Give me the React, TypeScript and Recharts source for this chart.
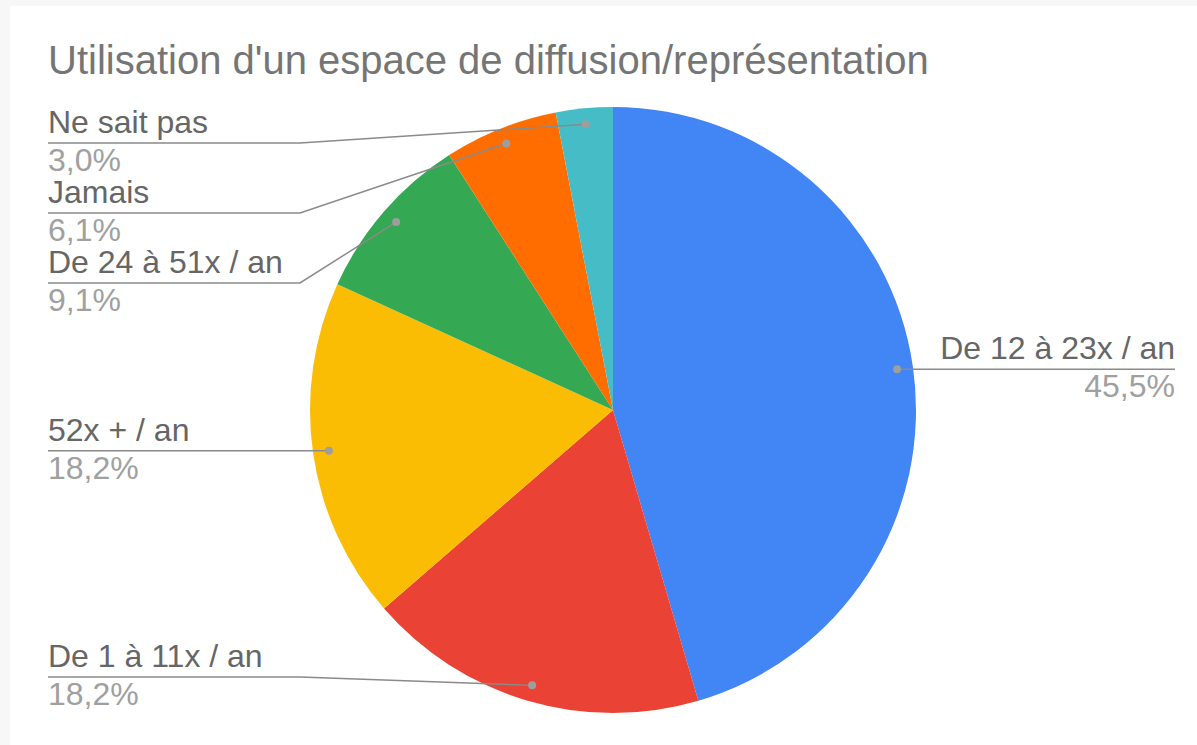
import React from "react";
import { PieChart, Pie, Cell } from "recharts";

const categories = ["De 12 à 23x / an", "De 1 à 11x / an", "52x + / an", "De 24 à 51x / an", "Jamais", "Ne sait pas"];
const counts = [15, 6, 6, 3, 2, 1];
const colors = ["#4285f4", "#ea4335", "#fbbc04", "#34a853", "#ff6d01", "#46bdc6"];

const title = "Utilisation d'un espace de diffusion/représentation";

const W = 1197;
const H = 745;
const CX = 613;
const CY = 410;
const R = 303;
const DOT_R = 287;
const LEFT_X = 48;
const RIGHT_X = 1175;
const BEND_X = 300;
const LABEL_GAP = 70;
const LABEL_TOP = 143;
const LABEL_BOTTOM = 677;
const RAD = Math.PI / 180;

const data = categories.map((name, i) => ({ name, value: counts[i] }));
const total = counts.reduce((a, b) => a + b, 0);

const fmtPct = (v: number) => ((v / total) * 100).toFixed(1).replace(".", ",") + "%";

// work out where the leader lines end on the left so the labels don't overlap
const layoutLabels = () => {
  let acc = 0;
  const pts = counts.map((v) => {
    const mid = 90 - ((acc + v / 2) / total) * 360;
    acc += v;
    const x = CX + DOT_R * Math.cos(mid * RAD);
    const y = CY - DOT_R * Math.sin(mid * RAD);
    return { x, y };
  });
  const lineY = pts.map((p) => p.y);
  const left = pts.map((p, i) => ({ i, y: p.y })).filter((p) => pts[p.i].x < CX).sort((a, b) => a.y - b.y);
  let prev = LABEL_TOP - LABEL_GAP;
  left.forEach((p) => {
    const y = Math.max(p.y, prev + LABEL_GAP);
    lineY[p.i] = y;
    prev = y;
  });
  let next = LABEL_BOTTOM + LABEL_GAP;
  for (let k = left.length - 1; k >= 0; k--) {
    const p = left[k];
    const y = Math.min(lineY[p.i], next - LABEL_GAP);
    lineY[p.i] = y;
    next = y;
  }
  return lineY;
};

const labelY = layoutLabels();

const renderLabel = (props: any) => {
  const { cx, cy, midAngle, index, value, name } = props;
  const x = cx + DOT_R * Math.cos(-midAngle * RAD);
  const y = cy + DOT_R * Math.sin(-midAngle * RAD);
  const ly = labelY[index];
  const isLeft = x < cx;
  const endX = isLeft ? LEFT_X : RIGHT_X;
  const bendX = isLeft ? Math.min(x, BEND_X) : Math.max(x, W - BEND_X);
  return (
    <g key={"lbl" + index}>
      <path d={`M${x},${y}L${bendX},${ly}L${endX},${ly}`} stroke="#8a8a8a" strokeWidth={1.5} fill="none" />
      <circle cx={x} cy={y} r={4} fill="#9e9e9e" />
      <text x={endX} y={ly - 10} textAnchor={isLeft ? "start" : "end"} fill="#666666" fontSize={32}>
        {name}
      </text>
      <text x={endX} y={ly + 28} textAnchor={isLeft ? "start" : "end"} fill="#a0a0a0" fontSize={32}>
        {fmtPct(value)}
      </text>
    </g>
  );
};

export default function App() {
  return (
    <div style={{ position: "absolute", left: 0, top: 0, width: W, height: H, background: "#f7f7f7", fontFamily: "'Liberation Sans', Arial, sans-serif" }}>
      <div style={{ position: "absolute", left: 10, top: 6, right: 0, bottom: 0, background: "#ffffff" }} />
      <svg width={W} height={H} style={{ position: "absolute", left: 0, top: 0 }}>
        <text x={LEFT_X} y={74} fill="#757575" fontSize={40}>
          {title}
        </text>
      </svg>
      <div style={{ position: "absolute", left: 0, top: 0 }}>
        <PieChart width={W} height={H} margin={{ top: 0, right: 0, bottom: 0, left: 0 }}>
          <Pie
            data={data}
            dataKey="value"
            nameKey="name"
            cx={CX}
            cy={CY}
            outerRadius={R}
            startAngle={90}
            endAngle={-270}
            stroke="none"
            label={renderLabel}
            labelLine={false}
            isAnimationActive={false}
          >
            {data.map((d, i) => (
              <Cell key={d.name} fill={colors[i]} />
            ))}
          </Pie>
        </PieChart>
      </div>
    </div>
  );
}
